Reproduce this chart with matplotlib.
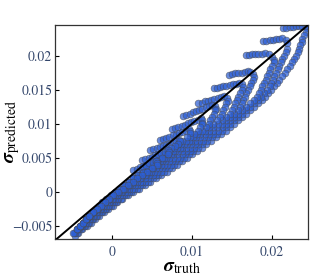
#%% Packages
import numpy as np
import matplotlib.pyplot as plt

plt.rcParams['font.family']      = 'STIXGeneral'
plt.rcParams['mathtext.fontset'] = 'stix'


#%% Data (sigma values in units of 1e-4, one list per trajectory)
u0  = [214,218,222,226,230,234,238,242, 244,242,240,238,237,235,234,232,230,227,
       225,222,219,216,213,209,206,202,199,195, 191,187,182,178,173,168,163,158,153,147,
       142,136,130,124,118,112,106,100,94,88, 82,75,69,62,55,48,41,34,27,20,
       13,7,1,-5,-10,-16,-21,-26,-31,-37, -42,-46]
w0  = [241,241,242,242,243,243,244,244, 240,235,230,225,220,215,210,205,200,195,
       190,185,180,175,170,165,160,155,150,145, 140,135,130,125,120,115,110,105,100,95,
       90,85,80,75,70,65,60,55,50,45, 40,35,30,25,20,15,10,5,0,-5,
       -10,-15,-20,-25,-30,-35,-40,-45,-50,-55, -60,-64]

u1  = [189,193,197,201,205,209,213, 217,219,
       219,217,215,213,211,209,207,205,203,201, 199,197,194,190,186,182,177,173,168,163,
       158,153,148,142,137,131,125,119,113,107, 101,96,90,84,78,71,65,58,52,45,
       38,31,24,18,11,5,-1,-7,-12,-18, -23,-28,-33,-39,-44]
w1  = [222,222,223,223,224,225,226, 223,218,
       210,205,200,195,190,185,180,175,170,165, 160,155,150,145,140,135,130,125,120,115,
       110,105,100,95,90,85,80,75,70,65, 60,55,50,45,40,35,30,25,20,15,
       10,5,0,-5,-10,-15,-20,-25,-30,-35, -40,-45,-50,-55,-60]

u2  = [167,171,175,179,183,187,191, 196,200,203,
       202,200,198,196,194,192,190,188,186,184, 181,177,172,167,162,157,152,147,142,137,
       132,126,120,114,108,103,97,91,85,79, 74,67,61,55,48,41,35,28,22,15,
       8,3,-3,-9,-14,-20,-25,-30,-35,-41, -46]
w2  = [201,201,202,202,203,203,204, 202,198,193,
       190,185,180,175,170,165,160,155,150,145, 140,135,130,125,120,115,110,105,100,95,
       90,85,80,75,70,65,60,55,50,45, 40,35,30,25,20,15,10,5,0,-5,
       -10,-15,-20,-25,-30,-35,-40,-45,-50,-55, -60]

u3  = [146,150,154,158,162,166,170, 173,176,178,
       176,174,172,170,168,166,164,162,160,157, 152,147,142,137,131,126,121,115,109,104,
       98,92,87,81,75,69,63,57,51,45, 38,32,25,19,13,6,0,-5,-11,-16,
       -22,-27,-32,-37,-42,-47]
w3  = [172,173,174,174,175,176,177, 176,173,169,
       165,160,155,150,145,140,135,130,125,120, 115,110,105,100,95,90,85,80,75,70,
       65,60,55,50,45,40,35,30,25,20, 15,10,5,0,-5,-10,-15,-20,-25,-30,
       -35,-40,-45,-50,-55,-60]

u4  = [127,131,135,139,143,147,151,155,159, 162,164,
       162,160,158,156,154,152,150,147,142,137, 132,126,121,116,110,104,99,93,88,82,
       76,71,65,59,53,47,41,35,29,22, 16,10,4,-2,-7,-13,-18,-24,-29,-34,
       -39,-44,-48]
w4  = [152,153,154,155,156,157,158,159,160, 158,154,
       150,145,140,135,130,125,120,115,110,105, 100,95,90,85,80,75,70,65,60,55,
       50,45,40,35,30,25,20,15,10,5, 0,-5,-10,-15,-20,-25,-30,-35,-40,-45,
       -50,-55,-60]

u5  = [108,112,116,120,124,128,132,136,140, 144,145,
       143,141,139,137,135,131,126,121,116,110, 105,99,94,88,83,77,72,66,61,55,
       49,43,37,31,25,19,13,7,1,-4, -10,-15,-20,-26,-31,-36,-40,-44]
w5  = [130,131,133,134,135,137,138,139,141, 138,134,
       130,125,120,115,110,105,100,95,90,85, 80,75,70,65,60,55,50,45,40,35,
       30,25,20,15,10,5,0,-5,-10,-15, -20,-25,-30,-35,-40,-45,-50,-55]

u6  = [89,93,97,101,105,109,113,117,121,125, 129,130,
       129,127,125,123,121,117,112,106,101,96, 90,85,79,74,68,63,58,52,46,41,
       35,29,23,17,11,6,0,-6,-11,-17, -22,-27,-32,-36,-40,-44]
w6  = [111,113,115,117,119,120,122,124,126,128, 126,122,
       120,115,110,105,100,95,90,85,80,75, 70,65,60,55,50,45,40,35,30,25,
       20,15,10,5,0,-5,-10,-15,-20,-25, -30,-35,-40,-45,-50,-55]

u7  = [75,79,83,87,91,95,99,103,107,111, 113,113,
       112,110,108,102,97,92,86,81,76,70, 65,60,54,49,43,38,32,26,21,15,
       9,4,-2,-8,-13,-18,-23,-28,-32,-36, -40]
w7  = [92,94,95,97,99,101,102,104,106,108, 105,101,
       100,95,90,85,80,75,70,65,60,55, 50,45,40,35,30,25,20,15,10,5,
       0,-5,-10,-15,-20,-25,-30,-35,-40,-45, -50]

u8  = [60,64,68,72,76,80,84,88,92,96, 98,98,
       94,88,83,78,72,67,62,57,51,46, 41,35,29,24,18,13,7,2,-4,-9,
       -14,-19,-24,-28,-32,-36,-40]
w8  = [76,78,79,81,83,84,86,88,90,92, 90,86,
       80,75,70,65,60,55,50,45,40,35, 30,25,20,15,10,5,0,-5,-10,-15,
       -20,-25,-30,-35,-40,-45,-50]

u9  = [48,52,56,60,64,68,72,76,80,84, 85,83,79,
       74,69,64,59,54,48,43,38,32,27, 22,16,11,5,0,-5,-11,-16,-20,-24,
       -28,-32,-36]
w9  = [61,63,64,66,68,69,71,73,75,77, 75,71,68,
       65,60,55,50,45,40,35,30,25,20, 15,10,5,0,-5,-10,-15,-20,-25,-30,
       -35,-40,-45]

u10 = [38,42,46,50,54,58,62,66,70, 71,70,
       63,57,51,45,39,33,27,21,15,9, 4,-1,-7,-12,-16,-20,-24,-28,-32]
w10 = [47,49,50,52,54,55,57,59,61, 59,55,
       50,45,40,35,30,25,20,15,10,5, 0,-5,-10,-15,-20,-25,-30,-35,-40]

u11 = [27,31,35,39,43,47,51,55, 57,56,
       50,44,38,32,26,20,14,8,2,-3, -8,-13,-18,-23,-28]
w11 = [32,34,36,38,40,42,44,46, 43,40,
       35,30,25,20,15,10,5,0,-5,-10, -15,-20,-25,-30,-35]

truth_chains     = [u0, u1, u2, u3, u4, u5, u6, u7, u8, u9, u10, u11]
predicted_chains = [w0, w1, w2, w3, w4, w5, w6, w7, w8, w9, w10, w11]
unit             = 1e-4

xticks        = [0, 0.01, 0.02]
xtick_labels  = ['0', '0.01', '0.02']
yticks        = [-0.005, 0, 0.005, 0.01, 0.015, 0.02]
ytick_labels  = ['\u22120.005', '0', '0.005', '0.01', '0.015', '0.02']


#%% Plot
sigma_truth = np.concatenate([np.array(c, dtype=float) for c in truth_chains]) * unit
sigma_pred  = np.concatenate([np.array(c, dtype=float) for c in predicted_chains]) * unit

fig = plt.figure(figsize=(3.15, 2.8), dpi=100)
ax  = fig.add_axes([0.1746, 0.1464, 0.8032, 0.7643])

ax.scatter(sigma_truth, sigma_pred, s=24, c='#2c5fd6', alpha=0.72,
           edgecolors='#4a4a4a', linewidths=0.45, zorder=2)
ax.axline((0, 0), slope=1, color='k', linewidth=1.4, zorder=3)

ax.set_xlim(-0.0071, 0.0245)
ax.set_ylim(-0.0069, 0.0245)
ax.set_xticks(xticks)
ax.set_xticklabels(xtick_labels)
ax.set_yticks(yticks)
ax.set_yticklabels(ytick_labels)
ax.tick_params(direction='in', length=3, width=0.8, labelsize=9.8,
               labelcolor='#33466b')
ax.tick_params(axis='x', pad=5)
ax.tick_params(axis='y', pad=2)
for sp in ax.spines.values():
    sp.set_linewidth(0.9)
    sp.set_color('#333333')

ax.set_xlabel(r'$\boldsymbol{\sigma}_{\mathrm{truth}}$', fontsize=14, labelpad=0)
ax.set_ylabel(r'$\boldsymbol{\sigma}_{\mathrm{predicted}}$', fontsize=14)
ax.yaxis.set_label_coords(-0.13, 0.5)

fig.savefig('out.png', dpi=100)
